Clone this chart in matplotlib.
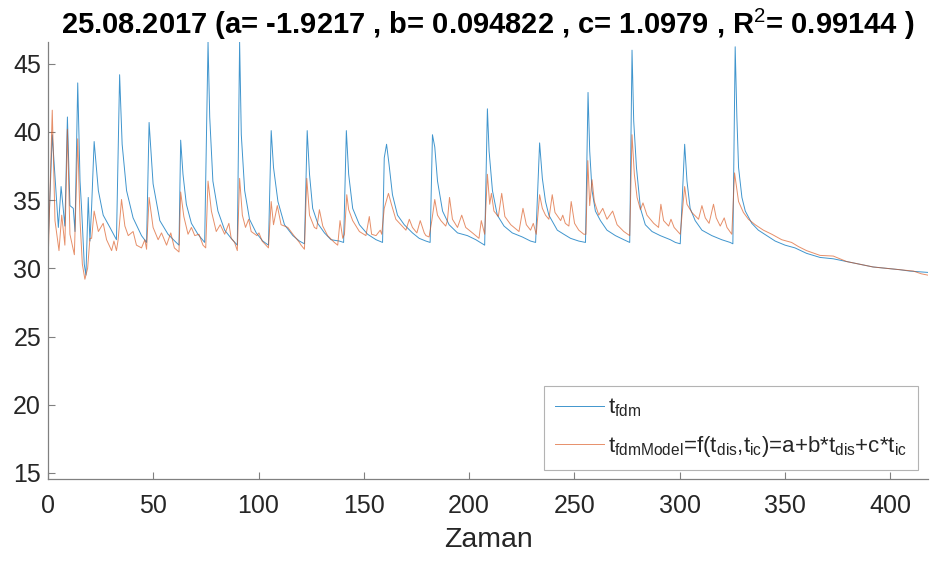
import matplotlib
matplotlib.use("Agg")
from matplotlib import pyplot as plt

x_fdm = [0, 2, 4.9, 6.2, 8, 9.2, 10.4, 12, 12.8, 14.1, 15.2, 16, 17.2, 18, 19.1, 19.9, 20.7,
         21.9, 23.9, 26.2, 29.4, 32.5, 34, 35.2, 37.3, 40.4, 44.4, 46.8, 48, 49.9, 53.1, 57,
         60.2, 62.2, 63, 64.1, 65.7, 68.1, 71.2, 74.4, 76, 76.8, 78.3, 80.7, 83.9, 87, 89.9,
         91, 91.8, 93.4, 95.7, 98.9, 102, 104.7, 106, 107.1, 109.2, 112.3, 116.3, 119.4, 121.8,
         123.1, 124.2, 125.7, 128.1, 131.3, 134.4, 138.4, 140.4, 141.7, 142.8, 144.7, 147.9,
         151.8, 155.8, 158.9, 159.7, 160.8, 162, 163.6, 166, 169.2, 173.1, 176.3, 179.5, 181.5,
         182.6, 183.7, 185, 187.4, 190.5, 194.5, 199.2, 203.2, 207.4, 208.7, 209.5, 211.1, 213.4,
         216.6, 220.5, 225.3, 229.2, 231.6, 233.5, 234.8, 236.3, 237.9, 241.9, 245, 248.2, 252.1,
         255.3, 256.5, 257.3, 258.4, 260, 262.4, 265.5, 269.5, 273.5, 276.3, 277.4, 278.2, 279.5,
         281.4, 283.7, 286.9, 290.8, 295.6, 298, 300.3, 302.4, 303.5, 305, 307.4, 310.6, 315.3,
         320, 324, 325.3, 326.4, 327.2, 328, 329.6, 331.2, 334.3, 337.4, 341.4, 345.4, 350.1,
         354.8, 360.3, 366.7, 373, 379.3, 385.6, 391.9, 398.2, 404.6, 409.3, 418]
y_fdm = [31.5, 39.8, 33.0, 36.0, 33.1, 41.1, 34.6, 34.4, 32.7, 43.6, 36.4, 34.2, 30.3, 29.5, 35.2,
         32.0, 34.5, 39.3, 35.7, 33.9, 33.0, 32.1, 44.2, 39.1, 35.7, 33.7, 32.4, 31.9, 40.7, 36.2,
         33.5, 32.5, 32.0, 31.7, 39.4, 36.9, 34.7, 33.3, 32.5, 31.9, 46.6, 41.1, 36.4, 34.2, 32.8,
         32.2, 31.7, 46.6, 39.8, 35.7, 33.6, 32.6, 32.0, 31.7, 40.1, 37.4, 34.9, 33.2, 32.4, 32.0,
         31.8, 40.1, 36.9, 34.4, 33.3, 32.6, 32.1, 32.0, 31.9, 40.1, 36.9, 34.4, 33.2, 32.5, 32.1,
         31.9, 38.1, 39.1, 37.6, 35.4, 33.9, 33.2, 32.6, 32.2, 32.0, 31.9, 39.8, 38.9, 36.4, 34.2,
         33.2, 32.6, 32.4, 32.1, 31.7, 41.7, 38.6, 35.7, 33.9, 33.1, 32.6, 32.3, 32.0, 31.9, 39.2,
         36.6, 34.9, 33.9, 32.8, 32.5, 32.2, 32.0, 31.9, 42.9, 38.6, 35.7, 34.2, 33.5, 32.8, 32.4,
         32.1, 31.9, 46.0, 40.8, 37.4, 34.4, 33.2, 32.7, 32.4, 32.1, 31.9, 31.8, 39.1, 36.4, 34.4,
         33.5, 32.8, 32.4, 32.1, 31.9, 31.8, 46.25, 41.1, 37.4, 35.2, 34.2, 33.3, 32.8, 32.4, 32.0,
         31.7, 31.5, 31.1, 30.8, 30.7, 30.5, 30.3, 30.1, 30.0, 29.9, 29.8, 29.7]

# t_fdmModel (fitted)
x_mod = [0, 2, 3.3, 5.2, 6.5, 8, 9.2, 10.4, 12.5, 14.1, 15.2, 16.3, 17.5, 18.8, 19.9, 20.7, 21.9,
         23.9, 26.2, 27.8, 30.2, 31.3, 32.5, 33.3, 34.9, 36.5, 38.1, 40.4, 42, 44.4, 46, 46.8, 48,
         49.9, 52.3, 53.9, 56.3, 58.3, 60, 62.2, 63, 64.5, 66.5, 68.1, 69.7, 71.7, 73.6, 74.9, 76,
         77.6, 79.9, 81.8, 83.9, 85.9, 87, 88.6, 89.9, 91, 92.3, 93.8, 95.3, 96.5, 99.2, 100.2,
         101.7, 104.7, 106, 107.1, 108.9, 110.7, 113.9, 116.3, 119.4, 120.2, 121.8, 122.9, 124.2,
         126.5, 127.6, 128.9, 130.5, 132.8, 136, 137.6, 138.7, 140, 140.8, 141.9, 142.8, 144.7,
         147.9, 151, 152.6, 153.7, 155.8, 157.8, 158.5, 159.7, 161.7, 163.1, 165.2, 167.6, 170,
         171.6, 173.1, 175.2, 176.8, 178.7, 179.5, 181, 182.3, 183.7, 185, 186.6, 188.9, 189.7,
         190.7, 192.1, 194.5, 196.5, 198.4, 201.6, 204.7, 205.8, 207.4, 208.7, 209.8, 210.6, 211.8,
         213.9, 215.5, 217, 219.8, 223.7, 225.6, 227.2, 229.2, 230.5, 231.9, 233.5, 234.8, 236.3,
         237.9, 239.5, 240.8, 243.5, 244.5, 245.7, 247.4, 248.5, 250.1, 252.1, 254.5, 255.5, 256.4,
         257.3, 258.4, 259.5, 261.6, 263.5, 265.5, 268.2, 270.3, 273.5, 276.3, 277.4, 278.5, 279.8,
         281.4, 282.6, 284.5, 287.7, 290, 291.1, 292.4, 294.8, 295.9, 297.4, 300.3, 302.4, 303.5,
         305.8, 309, 310.6, 312.2, 314, 316.1, 317.4, 319.3, 321.2, 322.5, 324.8, 326.1, 327, 328,
         330.3, 332.7, 335.9, 339.8, 343.8, 348.5, 353.2, 356.4, 360.3, 366.7, 373, 379.3, 385.6,
         391.9, 398.2, 404.6, 411, 414.8, 418]
y_mod = [30.3, 41.6, 33.5, 31.3, 33.9, 31.7, 40.2, 32.5, 31.0, 39.5, 33.5, 30.3, 29.2, 30.0, 32.2,
         32.2, 34.2, 32.7, 33.3, 32.1, 31.3, 32.0, 31.3, 32.1, 35.05, 33.1, 32.4, 32.7, 31.7, 31.5,
         32.1, 31.4, 35.2, 33.0, 32.1, 32.6, 31.7, 32.6, 31.5, 31.2, 35.6, 33.8, 32.5, 33.0, 32.4,
         32.5, 31.7, 31.5, 36.4, 34.2, 32.7, 33.2, 32.5, 33.3, 32.2, 31.9, 31.3, 36.6, 33.9, 33.0,
         33.6, 32.7, 32.4, 32.6, 32.0, 31.5, 34.9, 33.2, 34.6, 33.2, 33.0, 32.5, 31.9, 31.7, 31.4,
         36.6, 33.9, 33.0, 32.9, 34.3, 33.1, 32.4, 31.9, 31.7, 33.5, 32.2, 32.5, 35.4, 34.3, 33.5,
         32.7, 32.4, 33.8, 32.5, 32.4, 32.8, 32.5, 34.4, 35.5, 34.7, 33.6, 33.2, 32.8, 33.6, 33.0,
         32.6, 33.5, 32.6, 32.4, 32.3, 33.5, 35.05, 33.9, 33.5, 33.1, 33.5, 35.2, 33.6, 33.0, 33.9,
         33.0, 32.6, 32.2, 33.5, 32.5, 36.9, 34.7, 35.5, 34.2, 33.8, 35.5, 33.8, 33.2, 32.7, 34.4,
         33.2, 32.8, 33.3, 32.5, 35.4, 34.4, 33.9, 33.6, 35.4, 34.1, 33.5, 33.9, 33.3, 33.1, 34.9,
         33.3, 32.8, 32.5, 32.5, 37.9, 34.6, 36.5, 34.9, 33.9, 34.4, 33.6, 34.2, 33.2, 32.7, 32.4,
         39.8, 36.9, 35.2, 34.3, 34.8, 33.9, 33.3, 33.0, 34.7, 33.5, 33.1, 33.6, 33.0, 32.5, 36.0,
         34.7, 34.1, 33.6, 34.6, 33.7, 33.3, 34.7, 33.7, 33.1, 33.7, 33.0, 32.5, 37.0, 36.0, 34.9,
         34.1, 33.6, 33.2, 32.8, 32.5, 32.1, 31.9, 31.6, 31.3, 30.95, 30.9, 30.5, 30.3, 30.1, 30.0,
         29.9, 29.8, 29.6, 29.5]

x_ticks = [0, 50, 100, 150, 200, 250, 300, 350, 400]
y_ticks = [15, 20, 25, 30, 35, 40, 45]

title = r'25.08.2017 (a= -1.9217 , b= 0.094822 , c= 1.0979 , R$^2$= 0.99144 )'
lbl_fdm = r't$_{\mathrm{fdm}}$'
lbl_mod = (r't$_{\mathrm{fdmModel}}$=f(t$_{\mathrm{dis}}$,t$_{\mathrm{ic}}$)'
           r'=a+b*t$_{\mathrm{dis}}$+c*t$_{\mathrm{ic}}$')

plt.rcParams['font.family'] = ['Liberation Sans', 'DejaVu Sans']
plt.rcParams['mathtext.fontset'] = 'custom'
plt.rcParams['mathtext.rm'] = 'Liberation Sans'
plt.rcParams['mathtext.it'] = 'Liberation Sans'
plt.rcParams['mathtext.bf'] = 'Liberation Sans:bold'

ax_col = '#262626'

fig = plt.figure(figsize=(9.31, 5.63), dpi=100)
ax = fig.add_axes([0.0516, 0.1492, 0.9452, 0.7762])

ax.plot(x_fdm, y_fdm, color='#0072BD', lw=0.7, alpha=0.75, label=lbl_fdm)
ax.plot(x_mod, y_mod, color='#D95319', lw=0.7, alpha=0.65, label=lbl_mod)

ax.set_xlim(0, 418)
ax.set_ylim(14.55, 46.6)
ax.set_xticks(x_ticks)
ax.set_yticks(y_ticks)
ax.spines['top'].set_visible(False)
ax.spines['right'].set_visible(False)
for s in ['left', 'bottom']:
    ax.spines[s].set_color('#808080')
    ax.spines[s].set_linewidth(0.9)
ax.tick_params(direction='in', length=5, width=0.8, color='#808080',
               labelsize=18, labelcolor=ax_col, pad=5)
ax.tick_params(axis='x', pad=11)

ax.set_xlabel('Zaman', fontsize=20.5, color=ax_col, labelpad=6)
ax.set_title(title, fontsize=21, fontweight='bold', color='black', pad=6)

leg = ax.legend(loc='lower right', bbox_to_anchor=(0.9886, 0.0206), fontsize=16,
                frameon=True, fancybox=False, handlelength=2.2, handletextpad=0.2,
                borderpad=0.5, labelspacing=0.65, borderaxespad=0)
leg.get_frame().set_edgecolor('#a0a0a0')
leg.get_frame().set_linewidth(0.8)
for t in leg.get_texts():
    t.set_color(ax_col)

fig.savefig('out.png', dpi=100)
